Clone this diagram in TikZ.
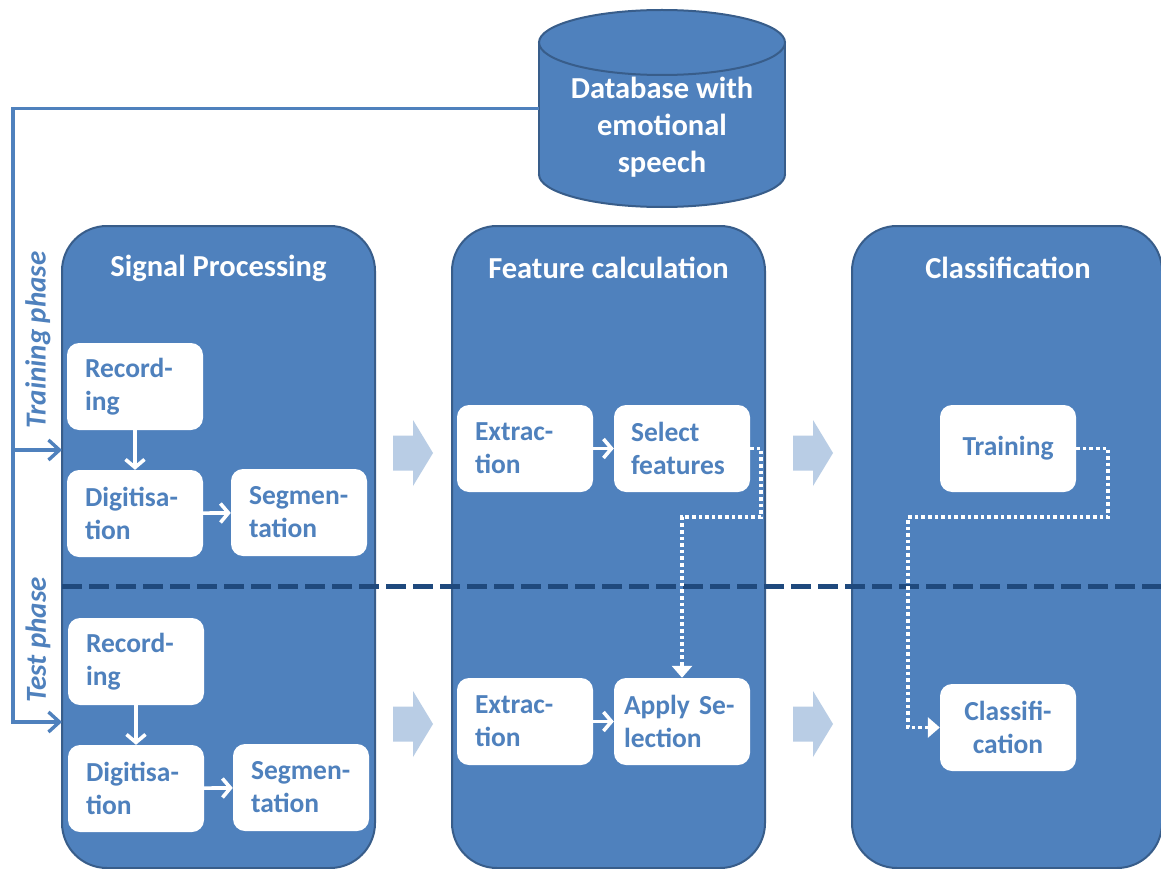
\documentclass[tikz,border=0pt]{standalone}
\usepackage{fontspec}
\setmainfont{Carlito}
\usetikzlibrary{arrows.meta}
\definecolor{accent}{HTML}{4F81BD}
\definecolor{accentdark}{HTML}{385D8A}
\definecolor{navy}{HTML}{1F497D}
\definecolor{pale}{HTML}{B9CDE5}

\begin{document}
\begin{tikzpicture}[x=1pt,y=-1pt,
  panel/.style={draw=accentdark, line width=2pt, fill=accent, rounded corners=45pt,
    minimum width=313pt, minimum height=642pt, inner sep=0pt},
  paneltitle/.style={text=white, font=\fontsize{30.5}{36}\selectfont\bfseries, inner sep=0pt},
  stepbox/.style={fill=white, rounded corners=12pt, minimum width=136pt, minimum height=87pt,
    text width=100pt, inner xsep=18pt, inner ysep=0pt, align=left, text=accent,
    font=\fontsize{27.5}{33}\selectfont\bfseries},
  centerbox/.style={stepbox, align=center},
  flow/.style={draw=white, line width=3.6pt, -{Straight Barb[length=8pt,width=19pt]}},
  dotflow/.style={draw=white, line width=3.6pt, dash pattern=on 3.6pt off 3pt,
    -{Triangle[length=12pt,width=20pt]}},
  conn/.style={draw=accent, line width=3.4pt, -{Straight Barb[length=11pt,width=20pt]}},
  phase/.style={text=accent, rotate=90, inner sep=0pt,
    font=\fontsize{29}{34}\selectfont\bfseries\itshape},
  divider/.style={draw=navy, line width=5pt, dash pattern=on 20pt off 7pt},
  blockarrow/.pic={\fill[pale] (-20,-17.5) -- (0,-17.5) -- (0,-33) -- (20,0) -- (0,33)
    -- (0,17.5) -- (-20,17.5) -- cycle;}
]
\fill[white] (0,0) rectangle (1161,869);
\useasboundingbox (0,0) rectangle (1161,869);

% database cylinder
\filldraw[fill=accent, draw=accentdark, line width=2pt] (662,174.5) ellipse [x radius=123, y radius=32.5];
\fill[accent] (539,42.5) rectangle (785,174.5);
\draw[accentdark, line width=2pt] (539,42.5) -- (539,174.5) (785,42.5) -- (785,174.5);
\filldraw[fill=accent, draw=accentdark, line width=2pt] (662,42.5) ellipse [x radius=123, y radius=32.5];
\node[minimum width=246pt, minimum height=197pt, inner sep=0pt] (db) at (662,108.5) {};
\node[text=white, align=center, font=\fontsize{30.5}{37}\selectfont\bfseries] (dbl) at (662,127)
  {Database with\\emotional\\speech};

% stage panels
\node[panel] (sp) at (218.5,547) {};
\node[panel] (fc) at (608.5,547) {};
\node[panel, minimum width=310pt] (cl) at (1007,547) {};
\node[paneltitle] (spt) at (218.5,268) {Signal Processing};
\node[paneltitle] (fct) at (608.5,268) {Feature calculation};
\node[paneltitle] (clt) at (1008,268) {Classification};

% block arrows between stages
\pic at (413,453) {blockarrow};
\pic at (413,724) {blockarrow};
\pic at (813,453) {blockarrow};
\pic at (813,724) {blockarrow};

% training / test divider
\coordinate (dvl) at (62,586);
\coordinate (dvr) at (1161,586);
\draw[divider] (dvl) -- (dvr);

% signal processing steps
\node[stepbox] (rec1) at (135,386.5) {Record-\\ing};
\node[stepbox] (dig1) at (135,513.5) {Digitisa-\\tion};
\node[stepbox] (seg1) at (299,512.5) {Segmen-\\tation};
\node[stepbox] (rec2) at (136,661.5) {Record-\\ing};
\node[stepbox] (dig2) at (136,788.5) {Digitisa-\\tion};
\node[stepbox] (seg2) at (301,787.5) {Segmen-\\tation};
\draw[flow] (rec1) -- (dig1);
\draw[flow] (dig1) -- (seg1);
\draw[flow] (rec2) -- (dig2);
\draw[flow] (dig2) -- (seg2);

% feature calculation steps
\node[stepbox] (ext1) at (525,448.5) {Extrac-\\tion};
\node[stepbox, inner xsep=17pt, text width=102pt] (sel) at (682,448.5) {Select\\features};
\node[stepbox] (ext2) at (525,721.5) {Extrac-\\tion};
\node[stepbox, inner xsep=10pt, text width=116pt] (app) at (682,721.5) {Apply Se-\\lection};
\draw[flow] (ext1) -- (sel);
\draw[flow] (ext2) -- (app);

% classification steps
\node[centerbox] (tr) at (1008,448.5) {Training};
\node[centerbox] (cls) at (1008,727.5) {Classifi-\\cation};

% model hand-over from training to test
\draw[dotflow] (sel.east) -- ++(11,0) |- (682,517) -- (app.north);
\draw[dotflow] (tr.east) -- ++(32,0) |- (908,517) |- (cls.west);

% phase inputs from the database
\coordinate (trin) at (62,450);
\coordinate (tein) at (62,722);
\draw[conn] (db.west) -| (13,722) -- (tein);
\draw[conn] (13,450) -- (trin);
\node[phase] (trl) at (38,340) {Training phase};
\node[phase] (tel) at (38,640) {Test phase};
\end{tikzpicture}
\end{document}
